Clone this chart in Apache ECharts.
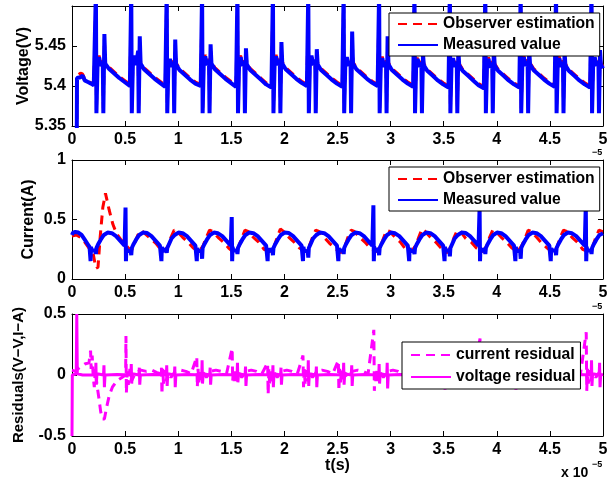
<!DOCTYPE html>
<html><head><meta charset="utf-8">
<script src="https://cdn.jsdelivr.net/npm/echarts@6/dist/echarts.min.js"></script>
<style>html,body{margin:0;padding:0;background:#fff}#c{width:613px;height:480px}</style>
</head><body><div id="c"></div>
<script>
// ---------- data (time in units of 1e-5 s) ----------
var xTicks = [0,0.5,1,1.5,2,2.5,3,3.5,4,4.5,5];

var voltT = [
0.045,0.047,0.06,0.08,0.10,0.12,0.15,0.18,0.205,
0.225,0.230,0.237,0.241,0.255,0.270,0.290,0.295,0.300,0.305,0.313,0.345,0.395,0.445,0.495,0.545,
0.558,0.563,0.570,0.574,0.588,0.603,0.623,0.628,0.633,0.638,0.646,0.678,0.728,0.778,0.828,0.878,
0.892,0.897,0.904,0.908,0.922,0.937,0.957,0.962,0.967,0.972,0.980,1.012,1.062,1.112,1.162,1.212,
1.225,1.230,1.237,1.241,1.255,1.270,1.290,1.295,1.300,1.305,1.313,1.345,1.395,1.445,1.495,1.545,
1.558,1.563,1.570,1.574,1.588,1.603,1.623,1.628,1.633,1.638,1.646,1.678,1.728,1.778,1.828,1.878,
1.892,1.897,1.904,1.908,1.922,1.937,1.957,1.962,1.967,1.972,1.980,2.012,2.062,2.112,2.162,2.212,
2.225,2.230,2.237,2.241,2.255,2.270,2.290,2.295,2.300,2.305,2.313,2.345,2.395,2.445,2.495,2.545,
2.558,2.563,2.570,2.574,2.588,2.603,2.623,2.628,2.633,2.638,2.646,2.678,2.728,2.778,2.828,2.878,
2.892,2.897,2.904,2.908,2.922,2.937,2.957,2.962,2.967,2.972,2.980,3.012,3.062,3.112,3.162,3.212,
3.225,3.230,3.237,3.241,3.255,3.270,3.290,3.295,3.300,3.305,3.313,3.345,3.395,3.445,3.495,3.545,
3.558,3.563,3.570,3.574,3.588,3.603,3.623,3.628,3.633,3.638,3.646,3.678,3.728,3.778,3.828,3.878,
3.892,3.897,3.904,3.908,3.922,3.937,3.957,3.962,3.967,3.972,3.980,4.012,4.062,4.112,4.162,4.212,
4.225,4.230,4.237,4.241,4.255,4.270,4.290,4.295,4.300,4.305,4.313,4.345,4.395,4.445,4.495,4.545,
4.558,4.563,4.570,4.574,4.588,4.603,4.623,4.628,4.633,4.638,4.646,4.678,4.728,4.778,4.828,4.878,
4.892,4.897,4.904,4.908,4.922,4.937,4.957,4.962,4.967,4.972,4.980,5.000
];
var voltMeas = [
5.340,5.410,5.412,5.411,5.413,5.407,5.405,5.403,5.401,
5.520,5.366,5.366,5.429,5.436,5.425,5.430,5.366,5.366,5.465,5.428,5.422,5.416,5.410,5.405,5.400,
5.520,5.366,5.366,5.431,5.438,5.426,5.444,5.366,5.366,5.462,5.428,5.421,5.415,5.409,5.404,5.399,
5.520,5.366,5.366,5.428,5.434,5.424,5.430,5.366,5.366,5.458,5.427,5.420,5.414,5.408,5.403,5.400,
5.520,5.366,5.366,5.430,5.437,5.426,5.432,5.366,5.366,5.452,5.428,5.421,5.415,5.409,5.404,5.399,
5.520,5.366,5.366,5.431,5.436,5.425,5.431,5.366,5.366,5.447,5.427,5.420,5.414,5.408,5.402,5.398,
5.520,5.366,5.366,5.429,5.437,5.426,5.432,5.366,5.366,5.455,5.428,5.421,5.415,5.409,5.404,5.400,
5.520,5.366,5.366,5.432,5.438,5.426,5.433,5.366,5.366,5.446,5.427,5.420,5.414,5.408,5.403,5.399,
5.520,5.366,5.366,5.430,5.436,5.425,5.431,5.366,5.366,5.468,5.428,5.421,5.415,5.409,5.404,5.400,
5.520,5.366,5.366,5.429,5.435,5.424,5.430,5.366,5.366,5.462,5.427,5.420,5.414,5.408,5.403,5.399,
5.520,5.366,5.366,5.428,5.434,5.424,5.429,5.366,5.366,5.440,5.426,5.419,5.413,5.407,5.402,5.398,
5.520,5.366,5.366,5.429,5.435,5.424,5.430,5.366,5.366,5.445,5.426,5.419,5.413,5.407,5.401,5.397,
5.520,5.366,5.366,5.428,5.434,5.423,5.429,5.366,5.366,5.448,5.426,5.419,5.413,5.407,5.402,5.398,
5.520,5.366,5.366,5.430,5.436,5.425,5.431,5.366,5.366,5.446,5.427,5.420,5.414,5.408,5.403,5.399,
5.520,5.366,5.366,5.429,5.435,5.424,5.430,5.366,5.366,5.443,5.426,5.419,5.413,5.407,5.402,5.398,
5.520,5.366,5.366,5.430,5.436,5.425,5.431,5.366,5.366,5.445,5.427,5.422
];
var voltEst = [
5.340,5.411,5.414,5.416,5.415,5.409,5.406,5.404,5.402,
5.510,5.369,5.371,5.431,5.438,5.427,5.432,5.372,5.370,5.458,5.430,5.424,5.418,5.412,5.407,5.402,
5.510,5.369,5.371,5.433,5.440,5.428,5.440,5.372,5.370,5.455,5.430,5.423,5.417,5.411,5.406,5.401,
5.510,5.369,5.371,5.430,5.436,5.426,5.432,5.372,5.370,5.452,5.429,5.422,5.416,5.410,5.405,5.402,
5.510,5.369,5.371,5.432,5.439,5.428,5.434,5.372,5.370,5.447,5.430,5.423,5.417,5.411,5.406,5.401,
5.510,5.369,5.371,5.433,5.438,5.427,5.433,5.372,5.370,5.442,5.429,5.422,5.416,5.410,5.404,5.400,
5.510,5.369,5.371,5.431,5.439,5.428,5.434,5.372,5.370,5.449,5.430,5.423,5.417,5.411,5.406,5.402,
5.510,5.369,5.371,5.434,5.440,5.428,5.435,5.372,5.370,5.441,5.429,5.422,5.416,5.410,5.405,5.401,
5.510,5.369,5.371,5.432,5.438,5.427,5.433,5.372,5.370,5.460,5.430,5.423,5.417,5.411,5.406,5.402,
5.510,5.369,5.371,5.431,5.437,5.426,5.432,5.372,5.370,5.455,5.429,5.422,5.416,5.410,5.405,5.401,
5.510,5.369,5.371,5.430,5.436,5.426,5.431,5.372,5.370,5.436,5.428,5.421,5.415,5.409,5.404,5.400,
5.510,5.369,5.371,5.431,5.437,5.426,5.432,5.372,5.370,5.440,5.428,5.421,5.415,5.409,5.403,5.399,
5.510,5.369,5.371,5.430,5.436,5.425,5.431,5.372,5.370,5.443,5.428,5.421,5.415,5.409,5.404,5.400,
5.510,5.369,5.371,5.432,5.438,5.427,5.433,5.372,5.370,5.441,5.429,5.422,5.416,5.410,5.405,5.401,
5.510,5.369,5.371,5.431,5.437,5.426,5.432,5.372,5.370,5.438,5.428,5.421,5.415,5.409,5.404,5.400,
5.510,5.369,5.371,5.432,5.438,5.427,5.433,5.372,5.370,5.440,5.429,5.424
];

var curT = [
0.000,0.010,0.030,0.060,0.090,0.120,0.150,0.165,
0.171,0.175,0.179,0.185,0.200,0.220,0.225,0.230,0.245,0.270,0.300,0.335,0.375,0.415,0.455,0.495,
0.504,0.508,0.512,0.518,0.533,0.553,0.558,0.563,0.578,0.603,0.633,0.668,0.708,0.748,0.788,0.828,
0.838,0.842,0.846,0.852,0.867,0.887,0.892,0.897,0.912,0.937,0.967,1.002,1.042,1.082,1.122,1.162,
1.171,1.175,1.179,1.185,1.200,1.220,1.225,1.230,1.245,1.270,1.300,1.335,1.375,1.415,1.455,1.495,
1.504,1.508,1.512,1.518,1.533,1.553,1.558,1.563,1.578,1.603,1.633,1.668,1.708,1.748,1.788,1.828,
1.838,1.842,1.846,1.852,1.867,1.887,1.892,1.897,1.912,1.937,1.967,2.002,2.042,2.082,2.122,2.162,
2.171,2.175,2.179,2.185,2.200,2.220,2.225,2.230,2.245,2.270,2.300,2.335,2.375,2.415,2.455,2.495,
2.504,2.508,2.512,2.518,2.533,2.553,2.558,2.563,2.578,2.603,2.633,2.668,2.708,2.748,2.788,2.828,
2.838,2.842,2.846,2.852,2.867,2.887,2.892,2.897,2.912,2.937,2.967,3.002,3.042,3.082,3.122,3.162,
3.171,3.175,3.179,3.185,3.200,3.220,3.225,3.230,3.245,3.270,3.300,3.335,3.375,3.415,3.455,3.495,
3.504,3.508,3.512,3.518,3.533,3.553,3.558,3.563,3.578,3.603,3.633,3.668,3.708,3.748,3.788,3.828,
3.838,3.842,3.846,3.852,3.867,3.887,3.892,3.897,3.912,3.937,3.967,4.002,4.042,4.082,4.122,4.162,
4.171,4.175,4.179,4.185,4.200,4.220,4.225,4.230,4.245,4.270,4.300,4.335,4.375,4.415,4.455,4.495,
4.504,4.508,4.512,4.518,4.533,4.553,4.558,4.563,4.578,4.603,4.633,4.668,4.708,4.748,4.788,4.828,
4.838,4.842,4.846,4.852,4.867,4.887,4.892,4.897,4.912,4.937,4.967,5.000
];
var curMeas = [
0.37,0.39,0.395,0.39,0.37,0.33,0.29,0.27,
0.27,0.15,0.27,0.24,0.25,0.24,0.21,0.26,0.29,0.33,0.37,0.39,0.385,0.36,0.32,0.28,
0.60,0.15,0.26,0.24,0.25,0.23,0.20,0.26,0.29,0.33,0.37,0.39,0.386,0.36,0.32,0.28,
0.27,0.15,0.27,0.23,0.25,0.24,0.22,0.26,0.29,0.34,0.37,0.39,0.385,0.36,0.32,0.28,
0.27,0.15,0.26,0.24,0.25,0.23,0.17,0.26,0.29,0.33,0.37,0.39,0.384,0.36,0.32,0.28,
0.52,0.15,0.27,0.24,0.25,0.24,0.21,0.26,0.29,0.33,0.37,0.39,0.385,0.36,0.32,0.28,
0.27,0.15,0.26,0.23,0.25,0.24,0.20,0.26,0.29,0.33,0.37,0.39,0.386,0.36,0.32,0.28,
0.27,0.15,0.27,0.24,0.25,0.23,0.18,0.26,0.29,0.34,0.37,0.39,0.385,0.36,0.32,0.28,
0.27,0.15,0.26,0.24,0.25,0.24,0.21,0.26,0.29,0.33,0.37,0.39,0.385,0.36,0.32,0.28,
0.62,0.15,0.27,0.23,0.25,0.24,0.20,0.26,0.29,0.33,0.37,0.39,0.384,0.36,0.32,0.28,
0.27,0.15,0.26,0.24,0.25,0.23,0.21,0.26,0.29,0.33,0.37,0.39,0.385,0.36,0.32,0.28,
0.27,0.15,0.27,0.24,0.25,0.24,0.19,0.26,0.29,0.34,0.37,0.39,0.386,0.36,0.32,0.28,
0.60,0.15,0.26,0.23,0.25,0.24,0.21,0.26,0.29,0.33,0.37,0.39,0.385,0.36,0.32,0.28,
0.27,0.15,0.27,0.24,0.25,0.23,0.17,0.26,0.29,0.33,0.37,0.39,0.385,0.36,0.32,0.28,
0.27,0.15,0.26,0.24,0.25,0.24,0.20,0.26,0.29,0.33,0.37,0.39,0.384,0.36,0.32,0.28,
0.62,0.15,0.27,0.24,0.25,0.24,0.21,0.26,0.29,0.33,0.37,0.385
];

var curEstT = [
0,0.04,0.08,0.12,0.16,0.20,0.225,0.245,0.265,0.29,0.315,0.35,0.385,0.42,0.46,0.50,0.53,0.56,0.59,0.62,0.65,0.69,0.74,0.79,0.835,
0.862,0.902,0.932,0.962,0.992,1.042,1.092,1.142,
1.195,1.235,1.265,1.295,1.325,1.375,1.425,1.475,
1.528,1.568,1.598,1.628,1.658,1.708,1.758,1.808,
1.862,1.902,1.932,1.962,1.992,2.042,2.092,2.142,
2.195,2.235,2.265,2.295,2.325,2.375,2.425,2.475,
2.528,2.568,2.598,2.628,2.658,2.708,2.758,2.808,
2.862,2.902,2.932,2.962,2.992,3.042,3.092,3.142,
3.195,3.235,3.265,3.295,3.325,3.375,3.425,3.475,
3.528,3.568,3.598,3.628,3.658,3.708,3.758,3.808,
3.862,3.902,3.932,3.962,3.992,4.042,4.092,4.142,
4.195,4.235,4.265,4.295,4.325,4.375,4.425,4.475,
4.528,4.568,4.598,4.628,4.658,4.708,4.758,4.808,
4.862,4.902,4.932,4.962,4.992,5.000
];
var curEst = [
0.36,0.37,0.35,0.31,0.26,0.21,0.09,0.10,0.35,0.60,0.72,0.58,0.46,0.38,0.33,0.30,0.26,0.24,0.30,0.37,0.41,0.38,0.34,0.30,0.25,
0.23,0.27,0.35,0.41,0.40,0.35,0.31,0.26,
0.23,0.28,0.35,0.41,0.40,0.35,0.31,0.26,
0.22,0.27,0.34,0.41,0.40,0.35,0.31,0.25,
0.23,0.27,0.35,0.42,0.40,0.35,0.31,0.26,
0.23,0.28,0.35,0.41,0.40,0.35,0.30,0.26,
0.22,0.27,0.35,0.41,0.40,0.35,0.31,0.26,
0.23,0.27,0.34,0.41,0.40,0.35,0.31,0.25,
0.23,0.28,0.35,0.42,0.40,0.35,0.31,0.26,
0.22,0.27,0.35,0.41,0.40,0.34,0.31,0.26,
0.23,0.27,0.35,0.41,0.40,0.35,0.31,0.26,
0.23,0.28,0.34,0.41,0.40,0.35,0.30,0.26,
0.22,0.27,0.35,0.41,0.40,0.35,0.31,0.25,
0.23,0.27,0.35,0.41,0.40,0.40
];

var vResT = [
0,0.003,0.04,0.045,0.05,0.10,0.20,
0.222,0.225,0.229,0.235,0.297,0.301,0.305,0.311,0.425,
0.555,0.558,0.562,0.568,0.630,0.634,0.638,0.644,0.758,
0.889,0.892,0.896,0.902,0.964,0.968,0.972,0.978,1.092,
1.222,1.225,1.229,1.235,1.297,1.301,1.305,1.311,1.425,
1.555,1.558,1.562,1.568,1.630,1.634,1.638,1.644,1.758,
1.889,1.892,1.896,1.902,1.964,1.968,1.972,1.978,2.092,
2.222,2.225,2.229,2.235,2.297,2.301,2.305,2.311,2.425,
2.555,2.558,2.562,2.568,2.630,2.634,2.638,2.644,2.758,
2.889,2.892,2.896,2.902,2.964,2.968,2.972,2.978,3.092,
3.222,3.225,3.229,3.235,3.297,3.301,3.305,3.311,3.425,
3.555,3.558,3.562,3.568,3.630,3.634,3.638,3.644,3.758,
3.889,3.892,3.896,3.902,3.964,3.968,3.972,3.978,4.092,
4.222,4.225,4.229,4.235,4.297,4.301,4.305,4.311,4.425,
4.555,4.558,4.562,4.568,4.630,4.634,4.638,4.644,4.758,
4.889,4.892,4.896,4.902,4.964,4.968,4.972,4.978,5.000
];
var vRes = [
-0.5,0.0,0.01,0.5,0.01,0.0,0.0,
0,0.10,-0.08,0.01,0,0.08,-0.10,0.0,0.005,
0,0.09,-0.07,0.01,0,0.06,-0.08,0.0,0.005,
0,0.08,-0.09,0.01,0,0.07,-0.10,0.0,0.005,
0,0.12,-0.07,0.01,0,0.06,-0.08,0.0,0.005,
0,0.10,-0.06,0.01,0,0.07,-0.09,0.0,0.005,
0,0.08,-0.10,0.01,0,0.06,-0.08,0.0,0.005,
0,0.12,-0.09,0.01,0,0.07,-0.10,0.0,0.005,
0,0.10,-0.08,0.01,0,0.08,-0.09,0.0,0.005,
0,0.09,-0.07,0.01,0,0.10,-0.11,0.0,0.005,
0,0.08,-0.09,0.01,0,0.06,-0.08,0.0,0.005,
0,0.09,-0.08,0.01,0,0.07,-0.09,0.0,0.005,
0,0.08,-0.09,0.01,0,0.07,-0.08,0.0,0.005,
0,0.09,-0.08,0.01,0,0.06,-0.09,0.0,0.005,
0,0.08,-0.08,0.01,0,0.07,-0.08,0.0,0.005,
0,0.12,-0.09,0.01,0,0.10,-0.10,0.0,0.005
];

var iResT = [
0,0.03,0.07,0.12,0.16,0.175,0.18,0.19,0.20,0.21,0.22,0.235,0.255,0.27,0.285,0.305,0.325,0.35,0.38,0.42,0.47,0.505,0.508,0.512,0.52,0.53,0.545,0.56,0.60,0.65,0.70,0.75,0.80,0.835,
0.842,0.847,0.854,0.862,0.872,0.887,0.902,0.932,0.972,1.022,1.072,1.122,
1.175,1.180,1.187,1.195,1.205,1.220,1.235,1.265,1.305,1.355,1.405,1.455,
1.508,1.513,1.520,1.528,1.538,1.553,1.568,1.598,1.638,1.688,1.738,1.788,
1.842,1.847,1.854,1.862,1.872,1.887,1.902,1.932,1.972,2.022,2.072,2.122,
2.175,2.180,2.187,2.195,2.205,2.220,2.235,2.265,2.305,2.355,2.405,2.455,
2.508,2.513,2.520,2.528,2.538,2.553,2.568,2.598,2.638,2.688,2.738,2.788,
2.842,2.847,2.854,2.862,2.872,2.887,2.902,2.932,2.972,3.022,3.072,3.122,
3.175,3.180,3.187,3.195,3.205,3.220,3.235,3.265,3.305,3.355,3.405,3.455,
3.508,3.513,3.520,3.528,3.538,3.553,3.568,3.598,3.638,3.688,3.738,3.788,
3.842,3.847,3.854,3.862,3.872,3.887,3.902,3.932,3.972,4.022,4.072,4.122,
4.175,4.180,4.187,4.195,4.205,4.220,4.235,4.265,4.305,4.355,4.405,4.455,
4.508,4.513,4.520,4.528,4.538,4.553,4.568,4.598,4.638,4.688,4.738,4.788,
4.842,4.847,4.854,4.862,4.872,4.887,4.902,4.932,4.972,5.000
];
var iRes = [
0.04,0.03,0.06,0.09,0.10,0.20,0.05,0.16,-0.02,-0.10,0.05,-0.08,-0.20,-0.30,-0.36,-0.36,-0.27,-0.17,-0.10,-0.05,-0.02,0.0,0.32,-0.15,0.03,-0.08,0.05,-0.05,0.02,0.04,0.03,0.04,0.02,0.01,
0.06,-0.16,0.05,-0.07,0.04,-0.05,0.02,-0.02,0.03,0.04,0.03,0.01,
0.15,-0.10,0.05,-0.06,0.04,-0.04,0.02,-0.02,0.03,0.04,0.03,0.01,
0.22,-0.05,0.05,-0.07,0.04,-0.05,0.02,-0.02,0.03,0.04,0.03,0.01,
0.10,-0.16,0.05,-0.08,0.04,-0.05,0.02,-0.02,0.03,0.04,0.03,0.01,
0.16,-0.10,0.05,-0.07,0.04,-0.05,0.02,-0.02,0.03,0.04,0.03,0.01,
0.12,-0.13,0.05,-0.06,0.04,-0.05,0.02,-0.02,0.03,0.04,0.03,0.01,
0.37,-0.13,0.05,-0.07,0.04,-0.05,0.02,-0.02,0.03,0.04,0.03,0.01,
0.05,-0.12,0.05,-0.07,0.04,-0.05,0.02,-0.02,0.03,0.04,0.03,0.01,
0.06,-0.12,0.05,-0.07,0.04,-0.05,0.02,-0.02,0.03,0.04,0.03,0.01,
0.30,-0.12,0.05,-0.07,0.04,-0.05,0.02,-0.02,0.03,0.04,0.03,0.01,
0.05,-0.12,0.05,-0.07,0.04,-0.05,0.02,-0.02,0.03,0.04,0.03,0.01,
0.05,-0.12,0.05,-0.07,0.04,-0.05,0.02,-0.02,0.03,0.04,0.03,0.01,
0.35,-0.13,0.05,-0.07,0.04,-0.05,0.02,-0.02,0.03,0.03
];

// ---------- chart ----------
function pairs(T, V){ return T.map(function(t,i){ return [t, V[i]]; }); }
var FONT = 'Liberation Sans, Arial, Helvetica, sans-serif';
var grids = [
  {left:72, width:531, top:6, height:120},
  {left:72, width:531, top:160, height:119},
  {left:72, width:531, top:314, height:122}
];
var yCfg = [
  {min:5.35, max:5.5, interval:0.05, name:'Voltage(V)', gap:40, fs:16, fmt:function(v){ return v > 5.49 ? '' : String(+v.toFixed(2)); }},
  {min:0, max:1, interval:0.5, name:'Current(A)', gap:35, fs:16, fmt:function(v){ return String(+v.toFixed(2)); }},
  {min:-0.5, max:0.5, interval:0.5, name:'Residuals(V\u2212V,I\u2212A)', gap:46, fs:15, fmt:function(v){ return String(+v.toFixed(2)); }}
];
var xAxes = [], yAxes = [];
var lab = {color:'#000', fontFamily:FONT, fontWeight:'bold', fontSize:16};
grids.forEach(function(g, i){
  xAxes.push({type:'value', gridIndex:i, min:0, max:5, interval:0.5, position:'bottom',
    axisLine:{show:true, onZero:false, lineStyle:{color:'#000', width:1}},
    axisTick:{show:true, inside:true, length:5, lineStyle:{color:'#000'}},
    axisLabel:Object.assign({margin:6, formatter:function(v){ return String(+v.toFixed(2)); }}, lab),
    splitLine:{show:false},
    name: i === 2 ? 't(s)' : '', nameLocation:'middle', nameGap:22, nameMoveOverlap:false,
    nameTextStyle:{color:'#000', fontFamily:FONT, fontWeight:'bold', fontSize:16}
  });
  xAxes.push({type:'value', gridIndex:i, min:0, max:5, interval:0.5, position:'top',
    axisLine:{show:true, onZero:false, lineStyle:{color:'#000', width:1}},
    axisTick:{show:true, inside:true, length:5, lineStyle:{color:'#000'}},
    axisLabel:{show:false}, splitLine:{show:false}
  });
  var c = yCfg[i];
  yAxes.push({type:'value', gridIndex:i, min:c.min, max:c.max, interval:c.interval, position:'left',
    axisLine:{show:true, onZero:false, lineStyle:{color:'#000', width:1}},
    axisTick:{show:true, inside:true, length:5, lineStyle:{color:'#000'}},
    axisLabel:Object.assign({margin:6, formatter:c.fmt}, lab),
    splitLine:{show:false},
    name:c.name, nameLocation:'middle', nameGap:c.gap, nameMoveOverlap:false,
    nameTextStyle:{color:'#000', fontFamily:FONT, fontWeight:'bold', fontSize:c.fs}
  });
  yAxes.push({type:'value', gridIndex:i, min:c.min, max:c.max, interval:c.interval, position:'right',
    axisLine:{show:true, onZero:false, lineStyle:{color:'#000', width:1}},
    axisTick:{show:true, inside:true, length:5, lineStyle:{color:'#000'}},
    axisLabel:{show:false}, splitLine:{show:false}
  });
});

function line(name, xi, yi, data, color, dashed, w){
  return {type:'line', name:name, xAxisIndex:xi, yAxisIndex:yi, data:data,
    symbol:'none', showSymbol:false, clip:true, animation:false,
    lineStyle:{color:color, width:w, type: dashed ? [9,6] : 'solid'},
    itemStyle:{color:color}};
}
var series = [
  line('Observer estimation', 0, 0, pairs(voltT, voltEst), '#ff0000', true, 3),
  line('Measured value', 0, 0, pairs(voltT, voltMeas), '#0000ff', false, 4),
  line('Observer estimation', 2, 2, pairs(curEstT, curEst), '#ff0000', true, 3),
  line('Measured value', 2, 2, pairs(curT, curMeas), '#0000ff', false, 4),
  line('current residual', 4, 4, pairs(iResT, iRes), '#ff00ff', true, 3),
  line('voltage residual', 4, 4, pairs(vResT, vRes), '#ff00ff', false, 3)
];

function legend(left, top, names, pad, gap){
  return {show:true, orient:'vertical', left:left, top:top, data:names,
    itemWidth:40, itemHeight:16, itemGap:gap, padding:pad,
    backgroundColor:'#fff', borderColor:'#000', borderWidth:1, borderRadius:0,
    selectedMode:false, z:10,
    itemStyle:{opacity:0},
    textStyle:{color:'#000', fontFamily:FONT, fontWeight:'bold', fontSize:15.7}};
}

var chart = echarts.init(document.getElementById('c'), null, {renderer:'canvas'});
chart.setOption({
  animation:false,
  backgroundColor:'#fff',
  grid:grids,
  xAxis:xAxes,
  yAxis:yAxes,
  legend:[
    legend(389, 13, ['Observer estimation','Measured value'], [3,5,3,8], 5),
    legend(389, 167, ['Observer estimation','Measured value'], [4,5,3,8], 5),
    legend(402, 342, ['current residual','voltage residual'], [5,5,4,8], 6)
  ],
  series:series,
  graphic:[
    {type:'text', left:592, top:148, z:1, style:{text:'\u22125', fill:'#000', font:'bold 9px ' + FONT}},
    {type:'text', left:592, top:302, z:1, style:{text:'\u22125', fill:'#000', font:'bold 9px ' + FONT}},
    {type:'text', left:561, top:466, z:1, style:{text:'x 10', fill:'#000', font:'bold 14px ' + FONT}},
    {type:'text', left:592, top:460, z:1, style:{text:'\u22125', fill:'#000', font:'bold 9px ' + FONT}}
  ]
});
</script></body></html>
